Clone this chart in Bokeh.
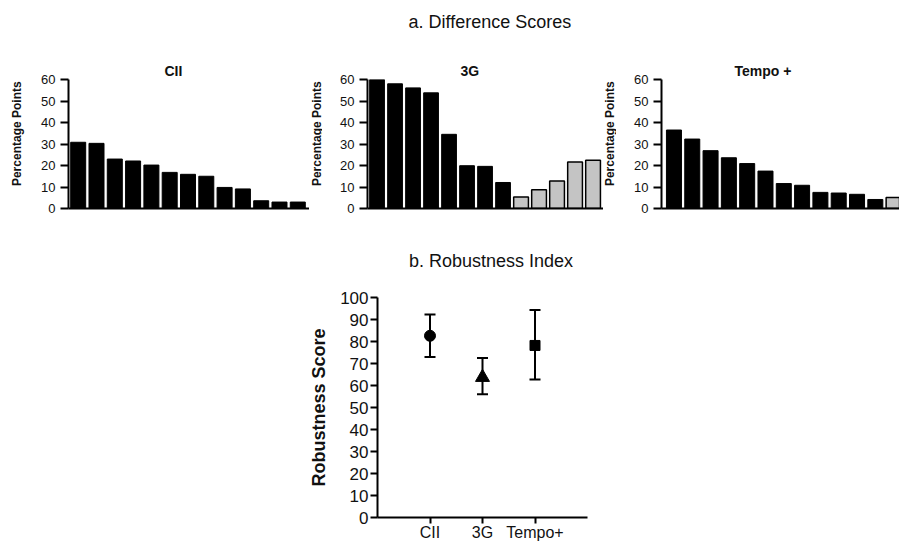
import math
from bokeh.plotting import figure
from bokeh.models import Range1d, FixedTicker, ColumnDataSource, Whisker, TeeHead, Title
from bokeh.core.properties import value
from bokeh.layouts import column, row
from bokeh.embed import file_html
from bokeh.resources import INLINE

FONT = "Liberation Sans"

# ---------------- data ----------------
bar_index = [0, 1, 2, 3, 4, 5, 6, 7, 8, 9, 10, 11, 12]
cii_values = [30.8, 30.3, 23.0, 22.1, 20.2, 16.8, 15.9, 15.0, 9.8, 9.1, 3.6, 3.0, 3.0]
cii_groups = ["dark"] * 13
g3_values = [60.0, 58.0, 56.1, 53.8, 34.5, 19.9, 19.6, 12.1, 5.3, 8.7, 12.8, 21.6, 22.4]
g3_groups = ["dark", "dark", "dark", "dark", "dark", "dark", "dark", "dark",
             "light", "light", "light", "light", "light"]
tempo_values = [36.5, 32.3, 26.9, 23.6, 20.9, 17.4, 11.6, 10.8, 7.5, 7.2, 6.6, 4.2, 5.1]
tempo_groups = ["dark"] * 12 + ["light"]
bar_ticks = [0, 10, 20, 30, 40, 50, 60]

systems = ["CII", "3G", "Tempo+"]
system_pos = [1, 2, 3]
robust_mean = [82.6, 63.7, 78.2]
robust_low = [73.0, 56.0, 62.7]
robust_high = [92.3, 72.5, 94.3]
robust_ticks = [0, 10, 20, 30, 40, 50, 60, 70, 80, 90, 100]

GROUP_FILL = {"dark": "#000000", "light": "#c4c4c4"}
GROUP_LINE_W = {"dark": 1, "light": 1.5}

W = 899
HEAD_A = 42          # header strip with "a. Difference Scores"
ROW_H = 188          # bar panels row (y 42..230)
HEAD_B = 54          # header strip with "b. Robustness Index"
P4_H = 543 - HEAD_A - ROW_H - HEAD_B


def text_strip(width, height, text, cx, cy, size, style="normal", angle=0.0):
    """A bare figure that only carries one piece of text (cx, cy in strip pixels from top-left)."""
    s = figure(width=width, height=height, x_range=Range1d(0, width), y_range=Range1d(0, height),
               output_backend="svg", toolbar_location=None, title=None,
               min_border=0, min_border_left=0, min_border_right=0,
               min_border_top=0, min_border_bottom=0)
    s.axis.visible = False
    s.grid.visible = False
    s.outline_line_color = None
    s.text(x=[cx], y=[height - cy], text=[text], angle=angle,
           text_align="center", text_baseline="middle",
           text_font=value(FONT), text_font_size=size, text_font_style=style,
           text_color="#111111")
    return s


def bar_panel(values, groups, title, fig_w, left, frame_w, top, frame_h, xr, title_offset):
    p = figure(width=fig_w, height=ROW_H, x_range=Range1d(*xr), y_range=Range1d(0, 60),
               output_backend="svg", toolbar_location=None, title=None,
               min_border_left=left, min_border_right=fig_w - left - frame_w,
               min_border_top=top, min_border_bottom=ROW_H - top - frame_h)
    p.outline_line_color = None
    p.grid.visible = False
    src = ColumnDataSource(dict(
        x=bar_index, top=values,
        fill=[GROUP_FILL[g] for g in groups],
        lw=[GROUP_LINE_W[g] for g in groups]))
    p.vbar(x="x", top="top", bottom=0, width=0.82, source=src,
           fill_color="fill", line_color="black", line_width="lw")
    p.yaxis.ticker = FixedTicker(ticks=bar_ticks)
    p.yaxis.minor_tick_line_color = None
    p.yaxis.major_tick_out = 8
    p.yaxis.major_tick_in = 0
    p.yaxis.major_tick_line_width = 2
    p.yaxis.axis_line_width = 2
    p.yaxis.major_label_standoff = 5
    p.yaxis.major_label_text_font = FONT
    p.yaxis.major_label_text_font_size = "13px"
    p.yaxis.major_label_text_color = "#111111"
    p.xaxis.ticker = FixedTicker(ticks=[])
    p.xaxis.minor_tick_line_color = None
    p.xaxis.major_tick_line_color = None
    p.xaxis.axis_line_width = 2
    p.add_layout(Title(text=title, align="left", offset=title_offset, standoff=2,
                       text_font=FONT, text_font_size="14px", text_font_style="bold",
                       text_color="#111111"), "above")
    return p


# header a
head_a = text_strip(W, HEAD_A, "a. Difference Scores", 481, 21, "18px")

# bar row: [label strip, panel] x 3   (frame tops relative to row start at y=42)
lab1 = text_strip(26, ROW_H, "Percentage Points", 16, 121 - HEAD_A, "12px", "bold", math.pi / 2)
p1 = bar_panel(cii_values, cii_groups, "CII", 283, 42, 241, 35, 132,
               (-0.53, 12.64), 96)
lab2 = text_strip(13, ROW_H, "Percentage Points", 7, 121 - HEAD_A, "12px", "bold", math.pi / 2)
p2 = bar_panel(g3_values, g3_groups, "3G", 281, 45, 236, 37, 129,
               (-0.53, 12.58), 93)
lab3 = text_strip(13, ROW_H, "Percentage Points", 6, 121 - HEAD_A, "12px", "bold", math.pi / 2)
p3 = bar_panel(tempo_values, tempo_groups, "Tempo +", 283, 45, 238, 34, 134,
               (-0.68, 12.32), 73)

# header b
head_b = text_strip(W, HEAD_B, "b. Robustness Index", 486, 30, "18px")

# ---------------- robustness panel ----------------
B_TOP = 13
B_FH = 220
p4 = figure(width=W, height=P4_H, x_range=Range1d(0, 4), y_range=Range1d(0, 100),
            output_backend="svg", toolbar_location=None, title=None,
            min_border_left=377, min_border_right=W - 587,
            min_border_top=B_TOP, min_border_bottom=P4_H - B_TOP - B_FH)
p4.outline_line_color = None
p4.grid.visible = False

rsrc = ColumnDataSource(dict(x=system_pos, mean=robust_mean,
                             low=robust_low, high=robust_high))
p4.add_layout(Whisker(source=rsrc, base="x", upper="high", lower="low",
                      line_width=2, line_color="black",
                      upper_head=TeeHead(size=11, line_width=2, line_color="black"),
                      lower_head=TeeHead(size=11, line_width=2, line_color="black")))
p4.scatter(x=[system_pos[0]], y=[robust_mean[0]], marker="circle", size=11,
           fill_color="black", line_color="black")
p4.scatter(x=[system_pos[1]], y=[robust_mean[1]], marker="triangle", size=14,
           fill_color="black", line_color="black")
p4.scatter(x=[system_pos[2]], y=[robust_mean[2]], marker="square", size=10,
           fill_color="black", line_color="black")

p4.yaxis.ticker = FixedTicker(ticks=robust_ticks)
p4.xaxis.ticker = FixedTicker(ticks=system_pos)
p4.xaxis.major_label_overrides = {pos: name for pos, name in zip(system_pos, systems)}
for ax in (p4.xaxis, p4.yaxis):
    ax.minor_tick_line_color = None
    ax.major_tick_in = 0
    ax.major_tick_out = 7
    ax.major_tick_line_width = 2
    ax.axis_line_width = 2
    ax.major_label_text_font = FONT
    ax.major_label_text_font_size = "17px"
    ax.major_label_text_color = "#111111"
p4.xaxis.major_tick_out = 6
p4.xaxis.major_label_text_font_size = "16px"
p4.yaxis.major_label_standoff = 2
p4.xaxis.major_label_standoff = 0
p4.yaxis.axis_label = "Robustness Score"
p4.yaxis.axis_label_text_font = FONT
p4.yaxis.axis_label_text_font_size = "18px"
p4.yaxis.axis_label_text_font_style = "bold"
p4.yaxis.axis_label_text_color = "#111111"
p4.yaxis.axis_label_standoff = 8

layout = column(head_a, row(lab1, p1, lab2, p2, lab3, p3), head_b, p4)
open("out.html", "w").write(file_html(layout, INLINE))
